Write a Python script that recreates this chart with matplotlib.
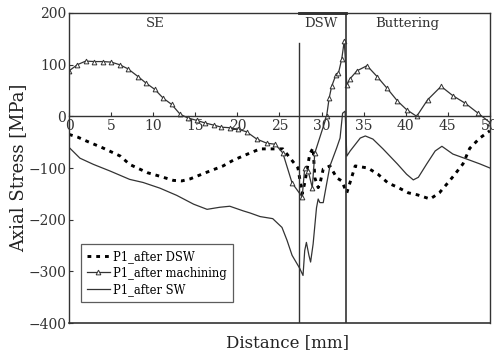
import matplotlib.pyplot as plt

# P1 axial stress profiles across the weld (distance in mm, stress in MPa)
dsw_x = [0, 1.0, 2.1, 4.0, 6.1, 7.2, 9.3, 10.8, 12.4, 13.4, 14.4, 16.4, 18.3, 19.5,
         21.5, 22.7, 25.4, 27.2, 27.7, 28.0, 28.6, 29.0, 29.2, 29.6, 29.8, 30.2,
         31.0, 31.8, 32.4, 33.0, 34.0, 35.5, 36.7, 37.9, 39.0, 40.3, 41.4, 42.9,
         44.0, 45.2, 45.8, 46.8, 47.6, 48.8, 50.0]
dsw_y = [-35, -40, -48, -61, -77, -93, -109, -116, -124, -125, -121, -108, -96, -85,
         -71, -63, -63, -100, -150, -129, -73, -61, -119, -138, -131, -102,
         -96, -119, -125, -148, -96, -100, -112, -129, -137, -148, -152, -160,
         -148, -125, -113, -92, -62, -42, -28]

mach_x = [0, 1, 2, 3, 4, 5, 6, 7, 8.2, 9.1, 10.2, 11.2, 12.2, 13.2, 14.1, 15.2,
          16.2, 17.2, 18.1, 19.1, 20.1, 21.1, 22.3, 23.5, 24.5, 25.4, 26.5, 27.7,
          28.0, 28.4, 28.9, 29.2, 30.6, 30.9, 31.2, 31.7, 32.0, 32.4, 32.7, 33.0,
          33.4, 34.2, 35.4, 36.6, 37.8, 39.0, 40.1, 41.3, 42.6, 44.2, 45.6, 47.1,
          48.6, 50.0]
mach_y = [88, 100, 107, 106, 106, 105, 100, 92, 77, 65, 52, 35, 23, 4, -3, -8,
          -13, -17, -21, -22, -25, -30, -44, -52, -54, -71, -129, -156,
          -100, -105, -138, -71, 0, 35, 58, 80, 83, 111, 146, 61,
          73, 88, 98, 77, 54, 30, 13, 0, 32, 58, 40, 25,
          6, -12]

sw_x = [0, 1.3, 2.9, 4.9, 7.2, 8.8, 10.8, 12.8, 14.8, 16.4, 17.9, 19.1, 20.7,
        21.5, 22.7, 24.2, 25.3, 25.9, 26.5, 27.4, 27.8, 28.0, 28.2, 28.5, 28.7,
        29.0, 29.4, 29.6, 29.8, 30.2, 30.6, 31.0, 31.8, 32.2, 32.5, 32.8, 33.0,
        33.4, 34.6, 35.2, 36.1, 37.3, 39.0, 40.1, 40.9, 41.5, 42.5, 43.5, 44.3,
        45.6, 47.3, 48.8, 50.0]
sw_y = [-60, -81, -93, -106, -122, -128, -139, -153, -170, -180, -176, -174, -183,
        -187, -194, -198, -215, -240, -269, -294, -308, -260, -244, -269, -282,
        -247, -177, -160, -167, -167, -131, -96, -61, -42, 6, 10, -77,
        -67, -42, -38, -44, -63, -92, -112, -123, -118, -92, -67, -58,
        -73, -83, -92, -100]

zones = ["SE", "DSW", "Buttering"]
zone_label_x = [10.2, 29.9, 40.2]
dsw_start, dsw_end = 27.35, 32.9

plt.rcParams["font.family"] = ["DejaVu Serif"]

fig = plt.figure(figsize=(4.94, 3.57), dpi=100)
ax = fig.add_axes([0.1397, 0.0952, 0.852, 0.8684])

ax.plot(dsw_x, dsw_y, color="black", lw=2.1, linestyle=(0, (1.3, 1.7)),
        label="P1_after DSW")
ax.plot(mach_x, mach_y, color="#333333", lw=0.9, marker="^", markersize=3.4,
        markerfacecolor="white", markeredgecolor="#333333", markeredgewidth=0.7,
        label="P1_after machining")
ax.plot(sw_x, sw_y, color="#333333", lw=0.9, label="P1_after SW")

# zone boundaries
ax.plot([dsw_start, dsw_start], [-400, 142], color="#333333", lw=1.0)
ax.plot([dsw_end, dsw_end], [-400, 200], color="#333333", lw=1.2)
ax.plot([dsw_start, dsw_end], [199.5, 199.5], color="#222222", lw=2.0,
        clip_on=False)
for name, zx in zip(zones, zone_label_x):
    ax.text(zx, 180, name, ha="center", va="center", fontsize=9.5, color="#333333")

ax.set_xlim(0, 50)
ax.set_ylim(-400, 200)
ax.set_xticks(range(0, 51, 5))
ax.set_yticks(range(-400, 201, 100))

# x axis runs along zero stress, with a plain frame line at the bottom
ax.spines["bottom"].set_position(("data", 0))
ax.axhline(-400, color="#333333", lw=1.2, clip_on=False)
for s in ax.spines.values():
    s.set_color("#333333")
    s.set_linewidth(1.0)

ax.tick_params(axis="both", direction="in", length=3, labelsize=10,
               colors="#333333", pad=2)

fig.text(0.5817, 0.039, "Distance [mm]", ha="center", va="center",
         fontsize=12, color="#222222")
ax.set_ylabel("Axial Stress [MPa]", fontsize=13, color="#222222", labelpad=1)

leg = ax.legend(loc="lower left", bbox_to_anchor=(0.015, 0.05), fontsize=8.3,
                frameon=True, fancybox=False, handlelength=2.0,
                borderpad=0.5, labelspacing=0.3, handletextpad=0.3)
leg.get_frame().set_edgecolor("#333333")
leg.get_frame().set_linewidth(0.9)

fig.savefig("out.png", dpi=100)
